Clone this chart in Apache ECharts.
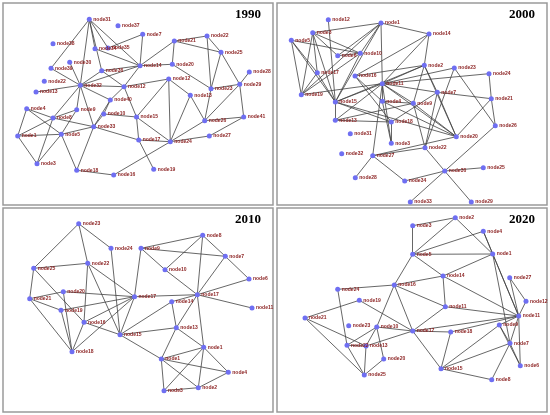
<!DOCTYPE html>
<html><head><meta charset="utf-8">
<script src="https://cdn.jsdelivr.net/npm/echarts@6/dist/echarts.min.js"></script>
<style>html,body{margin:0;padding:0;background:#fff}#c{width:550px;height:415px}</style>
</head><body><div id="c"></div>
<script>
const years = ['1990','2000','2010','2020'];

const nodes1990 = [
['node31',89.3,19.3],['node37',118,25.7],['node38',53,43.7],['node34',95,48.7],['node35',108,48],
['node30',69.7,62.3],['node39',51,68.3],['node36',101.7,70.7],['node22',44.3,81.3],['node13',36,92],
['node32',80.3,85.3],['node12',124,86.7],['node40',110.3,100],['node9',76.7,109.7],['node10',103.7,114],
['node15',136.5,117],['node4',26.7,108.7],['node8',53,118],['node1',17.7,136],['node5',61.3,134.3],
['node33',93.7,126.7],['node17',138.7,140],['node3',37,163.7],['node18',76.7,170.3],['node16',113.7,175],
['node14',140,65.7],['node7',142.7,34.3],['node21',174.3,41],['node22b',207,36],['node25',221,52.3],
['node20',172.3,64.3],['node12b',168.7,79],['node28',249.3,72],['node29',239.7,84.3],['node23',211,88.7],
['node13b',190.3,95.3],['node41',243.7,117],['node26',204.7,120.7],['node27',209.3,136],['node24',170.3,141.7],
['node19',153.7,169.3]
];
const edges1990 = [
['node31','node39'],['node31','node32'],['node31','node34'],['node31','node36'],['node31','node14'],['node31','node35'],
['node35','node7'],['node34','node14'],['node36','node32'],['node36','node12'],['node36','node14'],['node32','node39'],
['node32','node13'],['node32','node12'],['node32','node8'],['node32','node9'],['node32','node33'],['node32','node40'],
['node32','node30'],['node32','node14'],['node12','node40'],['node12','node15'],['node40','node10'],['node40','node33'],
['node10','node15'],['node10','node33'],['node4','node1'],['node4','node5'],['node4','node8'],['node8','node1'],
['node8','node3'],['node8','node9'],['node8','node33'],['node1','node5'],['node1','node3'],['node5','node3'],
['node5','node18'],['node5','node33'],['node5','node9'],['node33','node18'],['node33','node17'],['node18','node16'],
['node16','node24'],['node17','node19'],['node17','node24'],['node17','node15'],['node15','node24'],['node15','node12b'],
['node14','node7'],['node14','node21'],['node14','node20'],['node14','node12'],['node12','node12b'],['node21','node25'],
['node21','node20'],['node21','node22b'],['node22b','node25'],['node22b','node23'],['node25','node23'],['node25','node29'],
['node20','node23'],['node12b','node13b'],['node12b','node24'],['node13b','node26'],['node13b','node24'],['node23','node26'],
['node23','node29'],['node29','node28'],['node29','node41'],['node29','node26'],['node41','node26'],['node41','node27'],
['node26','node24'],['node27','node24']
];

const nodes2000 = [
['node12',328.3,19.7],['node1',381,23],['node3',312.7,32.7],['node5',291.3,40.3],['node6',337.7,55.7],
['node10',360.3,53.3],['node17',317.3,72.7],['node16',355,76],['node11',382.3,83.7],['node19',301.3,94.7],
['node15',335.3,102],['node4',382.3,101.3],['node13',335.3,120.3],['node18',391.3,122],['node31',350.3,133.7],
['node3b',391.3,143.3],['node32',341.7,153.7],['node27',372.7,155.7],['node28',355.3,177.7],['node34',404.7,181],
['node33',410.3,202],['node9',413.3,103.3],['node7',437.3,92.3],['node14',429,34],['node2',424.3,65.3],
['node23',454.3,68],['node24',489,73.7],['node21',491.3,98.7],['node26',495.3,125.7],['node20',456.3,136.7],
['node22',425,147.7],['node30',444.7,171],['node25',483.3,167.7],['node29',471.3,202]
];
const edges2000 = [
['node12','node15'],['node3','node1'],['node3','node10'],['node3','node6'],['node3','node19'],['node3','node15'],
['node3','node17'],['node5','node19'],['node5','node10'],['node5','node15'],['node5','node17'],['node1','node6'],
['node1','node10'],['node1','node15'],['node1','node14'],['node1','node11'],['node1','node19'],['node10','node15'],
['node10','node19'],['node10','node6'],['node17','node19'],['node17','node15'],['node16','node4'],['node16','node18'],
['node16','node2'],['node11','node15'],['node11','node14'],['node11','node2'],['node11','node24'],['node11','node23'],
['node11','node7'],['node11','node9'],['node11','node20'],['node11','node4'],['node11','node3b'],['node11','node27'],
['node11','node13'],['node11','node19'],['node15','node13'],['node15','node18'],['node15','node20'],['node15','node2'],
['node13','node9'],['node13','node18'],['node4','node3b'],['node4','node9'],['node4','node20'],['node18','node3b'],
['node18','node7'],['node27','node28'],['node27','node34'],['node27','node22'],['node27','node20'],['node34','node30'],
['node33','node30'],['node30','node22'],['node30','node25'],['node30','node29'],['node30','node26'],['node22','node23'],
['node22','node9'],['node22','node7'],['node20','node2'],['node20','node21'],['node20','node7'],['node20','node9'],
['node23','node26'],['node24','node21'],['node21','node26'],['node21','node7'],['node14','node2'],['node14','node16'],
['node2','node7'],['node2','node9']
];

const nodes2010 = [
['node23',78.7,223.7],['node24',111,248.3],['node22',87.7,263.3],['node25',33.7,268.3],['node20',63.3,291.7],
['node21',29.7,298.7],['node19',61,310.3],['node16',84,322.3],['node18',72,351.7],['node15',120,334.7],
['node17',134.5,296.7],['node9',141,248.3],['node8',202.7,235.3],['node7',225.3,256.3],['node10',165,269.7],
['node6',249,279],['node17b',197.3,294.7],['node11',252,308],['node14',171.7,301.7],['node13',176.3,327.7],
['node1',203.7,347.3],['node1b',161.3,359],['node4',228.3,372.3],['node3',164,390.7],['node2',198.3,387.7]
];
const edges2010 = [
['node23','node25'],['node23','node22'],['node23','node24'],['node24','node15'],['node22','node25'],['node22','node16'],
['node22','node15'],['node22','node17'],['node25','node21'],['node25','node16'],['node20','node21'],['node20','node18'],
['node20','node17'],['node21','node19'],['node21','node18'],['node19','node17'],['node19','node18'],['node16','node18'],
['node16','node17'],['node16','node15'],['node18','node17'],['node15','node17'],['node15','node13'],['node15','node1b'],
['node15','node14'],['node17','node9'],['node17','node17b'],['node9','node8'],['node9','node7'],['node9','node10'],
['node8','node10'],['node8','node17b'],['node8','node7'],['node7','node6'],['node7','node17b'],['node10','node17b'],
['node17b','node6'],['node17b','node11'],['node17b','node14'],['node17b','node1'],['node17b','node13'],['node14','node13'],
['node13','node1b'],['node13','node1'],['node1','node1b'],['node1','node3'],['node1','node2'],['node1','node4'],
['node1b','node3'],['node1b','node2'],['node1b','node4'],['node3','node2'],['node2','node4']
];

const nodes2020 = [
['node3',412.7,225.7],['node2',455.3,217.7],['node4',483.3,231.3],['node5',412.7,254.3],['node1',492.7,254],
['node14',443,276],['node27',509.7,277.7],['node12',526,301.3],['node11a',445.3,306.7],['node11',518.7,316],
['node9',499.3,325],['node17',412.7,331],['node18',450.7,332],['node7',510,343.3],['node6',520.3,365.7],
['node15',441,368.7],['node8',491.7,379.7],['node16',394.3,285],['node24',337.7,289.3],['node19',359.3,300.3],
['node21',305,318],['node23',348.7,325.7],['node10',376.7,327],['node22',347,345.3],['node13',366,346],
['node20',383.7,359],['node25',364.3,375]
];
const edges2020 = [
['node3','node5'],['node3','node2'],['node2','node5'],['node2','node1'],['node4','node5'],['node4','node1'],
['node4','node11'],['node5','node1'],['node5','node14'],['node5','node16'],['node1','node14'],['node1','node11'],
['node1','node7'],['node14','node11a'],['node14','node11'],['node14','node16'],['node27','node12'],['node27','node11'],
['node12','node11'],['node11a','node11'],['node11a','node17'],['node11a','node16'],['node11','node17'],['node11','node18'],
['node11','node9'],['node11','node7'],['node9','node7'],['node9','node15'],['node9','node6'],['node17','node18'],
['node17','node15'],['node17','node16'],['node17','node10'],['node17','node13'],['node18','node15'],['node7','node15'],
['node7','node8'],['node7','node6'],['node15','node8'],['node11','node6'],['node16','node24'],['node16','node10'],
['node24','node22'],['node19','node21'],['node19','node17'],['node21','node13'],['node21','node25'],
['node10','node22'],['node10','node13'],['node10','node20'],['node13','node25'],['node22','node25'],['node20','node25'],
['node22','node13']
];

const panels = [
  {x:3,y:3,w:270,h:202},{x:277,y:3,w:270,h:202},
  {x:3,y:208,w:270,h:204},{x:277,y:208,w:270,h:204}
];
const sets = [[nodes1990,edges1990],[nodes2000,edges2000],[nodes2010,edges2010],[nodes2020,edges2020]];

const chart = echarts.init(document.getElementById('c'), null, {renderer:'canvas'});
const series = sets.map(([nodes,edges]) => ({
  type:'graph', coordinateSystem:'cartesian2d', layout:'none', silent:true,
  symbol:'circle', symbolSize:5,
  itemStyle:{color:'#6f6ff2'},
  label:{show:true, position:'right', distance:1.5, fontSize:5, fontWeight:'bold',
         fontFamily:'Liberation Sans', color:'#8a1f1f',
         formatter: p => p.name.replace(/[a-z]$/,'')},
  lineStyle:{color:'#404040', width:0.8, opacity:1, curveness:0},
  data: nodes.map(n => ({name:n[0], value:[n[1],n[2]]})),
  links: edges.map(e => ({source:e[0], target:e[1]})),
  z: 5
}));

const graphics = [];
panels.forEach((p,i) => {
  graphics.push({type:'rect', shape:{x:p.x,y:p.y,width:p.w,height:p.h},
    style:{fill:null, stroke:'#9a9a9a', lineWidth:1.5}, silent:true, z:1});
  graphics.push({type:'text', x:p.x+p.w-12, y:p.y+5,
    style:{text:years[i], font:'bold 13px "Liberation Serif"', fill:'#000', align:'right', verticalAlign:'top'},
    silent:true, z:10});
});

chart.setOption({
  animation:false,
  backgroundColor:'#fff',
  grid:{left:0,top:0,right:0,bottom:0},
  xAxis:{type:'value', min:0, max:550, show:false},
  yAxis:{type:'value', min:0, max:415, inverse:true, show:false},
  graphic: graphics,
  series: series
});
</script></body></html>
